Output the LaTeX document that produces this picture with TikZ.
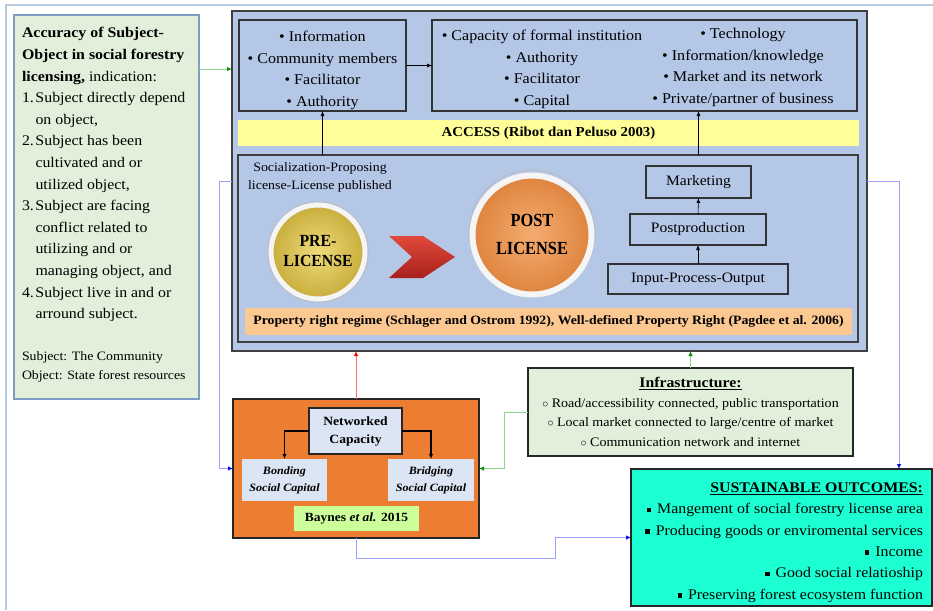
\documentclass[tikz,border=0pt]{standalone}
\usepackage{fontspec}
\setmainfont[FakeStretch=1.08]{Liberation Serif}
\usetikzlibrary{arrows.meta,calc}
\definecolor{mainblue}{HTML}{B4C7E7}
\definecolor{leftgreen}{HTML}{E2EFDA}
\definecolor{leftedge}{HTML}{7F9CC4}
\definecolor{framecol}{HTML}{B8CADD}
\definecolor{accessyel}{HTML}{FFFF99}
\definecolor{peach}{HTML}{FBC892}
\definecolor{netorange}{HTML}{ED7D31}
\definecolor{lightbox}{HTML}{DCE5F3}
\definecolor{baygreen}{HTML}{CCFF99}
\definecolor{sustaqua}{HTML}{1CFFD2}
\definecolor{linkblue}{HTML}{9F9FFF}
\definecolor{tipblue}{HTML}{1010E0}
\definecolor{linkgreen}{HTML}{8ED48E}
\definecolor{tipgreen}{HTML}{109010}
\definecolor{linkred}{HTML}{FF7070}
\definecolor{goldin}{HTML}{EEDC7A}
\definecolor{goldout}{HTML}{C9AC3C}
\definecolor{orangein}{HTML}{F4AC70}
\definecolor{orangeout}{HTML}{DE843F}
\definecolor{chevlight}{HTML}{E04A3A}
\definecolor{chevdark}{HTML}{A8201C}
\begin{document}
\begin{tikzpicture}[x=1pt,y=-1pt,
  every node/.style={inner sep=0pt,outer sep=0pt},
  tnorm/.style={font=\fontsize{14.9}{21.6}\selectfont,align=center},
  blk/.style={draw=black!80,line width=1.4pt,anchor=north west},
  heavy/.style={draw=black!75,line width=1.9pt,anchor=north west},
  arr/.style={-{Latex[length=5pt,width=4pt]},line width=0.6pt},
  bluearr/.style={-{Latex[length=5pt,width=4.5pt,color=tipblue]},line width=0.8pt,draw=linkblue},
  greenarr/.style={-{Latex[length=5pt,width=4.5pt,color=tipgreen]},line width=0.8pt,draw=linkgreen},
  redarr/.style={-{Latex[length=5pt,width=4.5pt,color=red]},line width=0.8pt,draw=linkred},
  thickarr/.style={-{Latex[length=5pt,width=4.5pt]},line width=1.4pt}
]
\useasboundingbox (0,0) rectangle (933,610);
% outer frame
\draw[framecol,line width=1.5pt] (6,610) -- (6,5) -- (933,5);

% left box
\node[anchor=north west,fill=leftgreen,draw=leftedge,line width=1.5pt,minimum width=185pt,minimum height=384pt] (left) at (14,15) {};
\node[anchor=north west,align=left,font=\fontsize{14.7}{21.6}\selectfont] (lefttext) at (22,27.5) {%
\textbf{Accuracy of Subject-}\\
\textbf{Object in social forestry}\\
\textbf{licensing,} indication:\\
\makebox[13.5pt][l]{1.}Subject directly depend\\
\hspace*{13.5pt}on object,\\
\makebox[13.5pt][l]{2.}Subject has been\\
\hspace*{13.5pt}cultivated and or\\
\hspace*{13.5pt}utilized object,\\
\makebox[13.5pt][l]{3.}Subject are facing\\
\hspace*{13.5pt}conflict related to\\
\hspace*{13.5pt}utilizing and or\\
\hspace*{13.5pt}managing object, and\\
\makebox[13.5pt][l]{4.}Subject live in and or\\
\hspace*{13.5pt}arround subject.};
\node[anchor=north west,align=left,font=\fontsize{12.8}{19}\selectfont] (leftnote) at (22,352) {Subject: The Community\\ Object: State forest resources};

% main box
\node[heavy,fill=mainblue,minimum width=635pt,minimum height=340pt] (main) at (232,11) {};
\node[blk,minimum width=167pt,minimum height=91pt] (boxA) at (239,20) {};
\node[tnorm] (boxAtext) at (322.5,70.5) {\textbullet{} Information\\ \textbullet{} Community members\\ \textbullet{} Facilitator\\ \textbullet{} Authority};
\node[blk,minimum width=425pt,minimum height=91pt] (boxB) at (432,20) {};
\node[tnorm] (boxBl) at (542,69.5) {\textbullet{} Capacity of formal institution\\ \textbullet{} Authority\\ \textbullet{} Facilitator\\ \textbullet{} Capital};
\node[tnorm] (boxBr) at (743,67.5) {\textbullet{} Technology\\ \textbullet{} Information/knowledge\\ \textbullet{} Market and its network\\ \textbullet{} Private/partner of business};
\node[anchor=north west,fill=accessyel,minimum width=621pt,minimum height=26pt,font=\fontsize{13.75}{16}\selectfont\bfseries] (access) at (238,120) {ACCESS (Ribot dan Peluso 2003)};

\node[heavy,minimum width=620pt,minimum height=187pt] (boxC) at (238,155) {};
\node[anchor=north west,fill=peach,minimum width=607pt,minimum height=27pt,font=\fontsize{12.75}{16}\selectfont\bfseries] (property) at (245,308) {Property right regime (Schlager and Ostrom 1992), Well-defined Property Right (Pagdee et al. 2006)};
\node[font=\fontsize{12.85}{18}\selectfont,align=center] (social) at (320,177.5) {Socialization-Proposing\\ license-License published};

% circles
\draw[gray!55,line width=0.8pt] (318,252) circle (50);
\node[circle,minimum size=94pt,draw=white!92!gray,line width=5pt,inner color=goldin,outer color=goldout,align=center] (pre) at (318,252) {\scalebox{0.86}[1]{\fontsize{17}{21}\selectfont\bfseries\begin{tabular}{@{}c@{}}PRE-\\[-1pt] LICENSE\end{tabular}}};
\draw[gray!55,line width=0.8pt] (532,233) circle (63);
\node[circle,minimum size=119pt,draw=white!92!gray,line width=6pt,inner color=orangein,outer color=orangeout,align=center] (post) at (532,235) {\scalebox{0.82}[1]{\fontsize{18.5}{26}\selectfont\bfseries\begin{tabular}{@{}c@{}}POST\\[2pt] LICENSE\end{tabular}}};
% chevron
\shade[top color=chevlight,bottom color=chevdark] (389,236) -- (423,236) -- (455,257) -- (423,278) -- (389,278) -- (412,257) -- cycle;

% production chain
\node[blk,minimum width=105pt,minimum height=32pt,font=\fontsize{14.4}{16}\selectfont] (mkt) at (646,166) {Marketing};
\node[blk,minimum width=136pt,minimum height=31pt,font=\fontsize{14.4}{16}\selectfont] (postp) at (630,214) {Postproduction};
\node[blk,minimum width=180pt,minimum height=30pt,font=\fontsize{14.4}{16}\selectfont] (ipo) at (608,264) {Input-Process-Output};
\draw[arr] (ipo.north) -- (postp.south);
\draw[arr] (postp.north) -- (mkt.south);

% arrows inside main
\draw[arr] (boxA.east) -- (boxB.west);
\draw[arr] (boxC.north -| boxA.south) -- (boxA.south);
\draw[arr] (boxC.north -| mkt.north) -- (boxB.south -| mkt.north);

% networked capacity box
\node[anchor=north west,fill=netorange,draw=black!85,line width=1.5pt,minimum width=246pt,minimum height=139pt] (orange) at (233,399) {};
\node[blk,fill=lightbox,draw=black!85,line width=1.6pt,minimum width=93pt,minimum height=46pt,font=\fontsize{12.6}{18}\selectfont\bfseries,align=center] (net) at (309,408) {Networked\\ Capacity};
\node[anchor=north west,fill=lightbox,minimum width=85pt,minimum height=42pt,font=\fontsize{11.2}{17}\selectfont\bfseries\itshape,align=center] (bond) at (242,459) {Bonding\\ Social Capital};
\node[anchor=north west,fill=lightbox,minimum width=86pt,minimum height=42pt,font=\fontsize{11.2}{17}\selectfont\bfseries\itshape,align=center] (bridge) at (388,459) {Bridging\\ Social Capital};
\node[anchor=north west,fill=baygreen,minimum width=125pt,minimum height=25pt,font=\fontsize{12.5}{16}\selectfont\bfseries] (baynes) at (294,506) {Baynes \textit{et al.} 2015};
\draw[thickarr] (net.west) -| (bond.north);
\draw[thickarr] (net.east) -| (bridge.north);

% infrastructure
\node[blk,fill=leftgreen,draw=black!85,line width=1.5pt,minimum width=325pt,minimum height=88pt,font=\fontsize{13}{19.5}\selectfont,align=center] (infra) at (528,368) {\fontsize{14.6}{19.5}\selectfont\underline{\textbf{Infrastructure:}}\\ $\circ$ Road/accessibility connected, public transportation\\ $\circ$ Local market connected to large/centre of market\\ $\circ$ Communication network and internet};

% sustainable outcomes
\newcommand{\sqb}{\raisebox{1.5pt}{\rule{4.5pt}{4.5pt}}\hspace{6pt}}
\node[blk,fill=sustaqua,draw=black!85,line width=1.5pt,minimum width=301pt,minimum height=137pt] (sust) at (631,469) {};
\node[anchor=east,align=right,font=\fontsize{14.7}{21.4}\selectfont] (susttext) at (923,542.5) {\underline{\textbf{SUSTAINABLE OUTCOMES:}}\\ \sqb Mangement of social forestry license area\\ \sqb Producing goods or enviromental services\\ \sqb Income\\ \sqb Good social relatioship\\ \sqb Preserving forest ecosystem function};

% connectors
\draw[greenarr] ($(left.north east)+(0,54)$) -- ($(main.north west)+(0,58)$);
\draw[redarr] (orange.north) -- (main.south -| orange.north);
\draw[greenarr] (infra.north) -- (main.south -| infra.north);
\draw[greenarr] (infra.west) -- ($(infra.west)+(-24,0)$) |- (orange.east);
\draw[bluearr] (main.west) -- ($(main.west)+(-13,0)$) |- (orange.west);
\draw[bluearr] (main.east) -| ($(sust.north east)+(-33,0)$);
\draw[bluearr] (orange.south) -- ($(orange.south)+(0,20)$) -- ($(orange.south)+(199,20)$) |- (sust.west);
\end{tikzpicture}
\end{document}
